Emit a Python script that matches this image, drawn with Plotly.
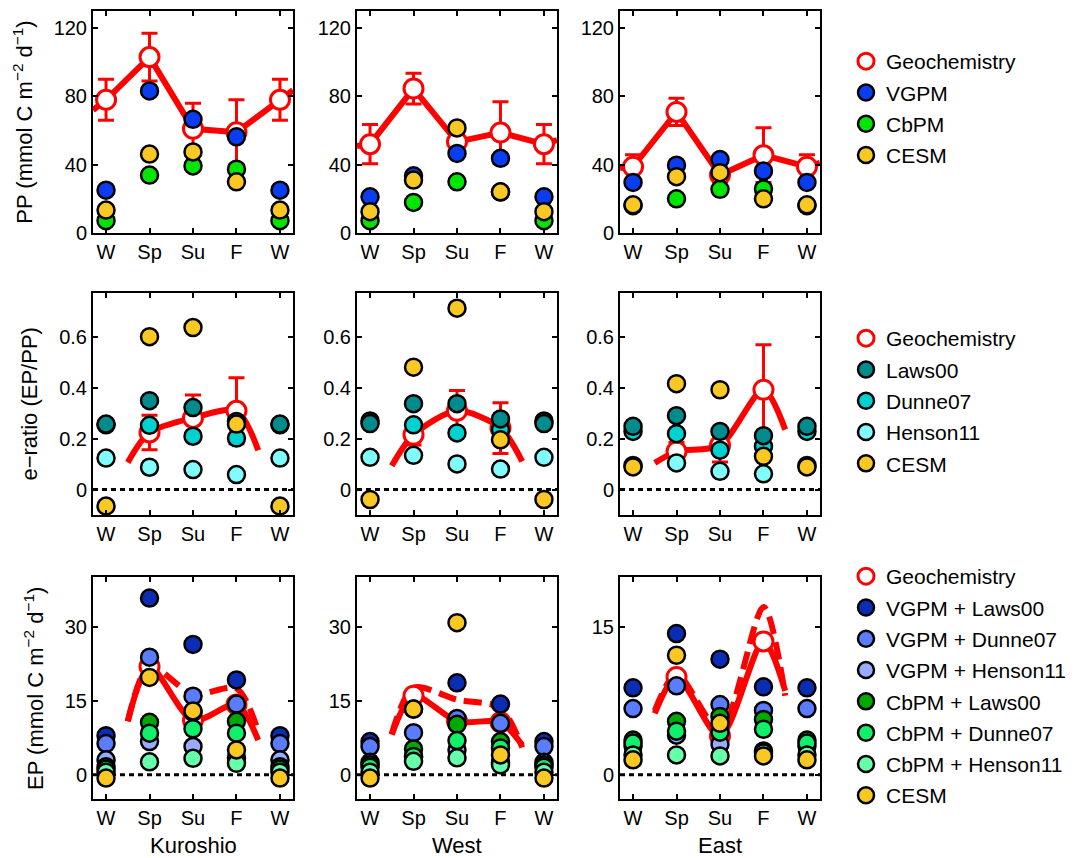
import plotly.graph_objects as go

# ---------------- data ----------------
season_x = [1, 2, 3, 4, 5]
season_labels = ["W", "Sp", "Su", "F", "W"]
regions = ["Kuroshio", "West", "East"]

# Row 1: PP (mmol C m-2 d-1)
pp_geo_kur = [78, 103, 61, 59, 78]
pp_geo_wes = [52, 84.6, 53.4, 58.8, 52]
pp_geo_eas = [38.8, 70.9, 34, 45.6, 38.8]
pp_err_kur = [12, 14, 15, 19, 12]
pp_err_wes = [11.5, 9, 5, 18, 11.5]
pp_err_eas = [7, 8, 4, 16, 7]
pp_line_x = [0.7, 1, 2, 3, 4, 5, 5.3]
pp_line_kur = [72, 78, 103, 61, 59, 78, 83.6]
pp_line_wes = [51, 52, 84.6, 53.4, 58.8, 52, 54.4]
pp_line_eas = [38, 38.8, 70.9, 34, 45.6, 38.8, 41]
pp_vgpm_kur = [25.1, 83.2, 66.6, 56.3, 25.1]
pp_vgpm_wes = [21.2, 33.5, 46.6, 43.7, 21.2]
pp_vgpm_eas = [29.6, 39.7, 43, 36.3, 29.6]
pp_cbpm_kur = [7.2, 33.9, 39.3, 37.4, 7.2]
pp_cbpm_wes = [7.2, 17.9, 30, 24, 7.2]
pp_cbpm_eas = [16, 20, 25.6, 25.8, 16]
pp_cesm_kur = [13.4, 46.2, 47.5, 30, 13.4]
pp_cesm_wes = [12.5, 31, 61.5, 24.1, 12.5]
pp_cesm_eas = [16.5, 33, 35.3, 20, 16.5]

# Row 2: e-ratio
er_geo_x = [2, 3, 4]
er_geo_kur = [0.225, 0.282, 0.31]
er_geo_wes = [0.216, 0.31, 0.242]
er_geo_eas = [0.15, 0.174, 0.393]
er_err_kur = [0.068, 0.09, 0.13]
er_err_wes = [0.04, 0.08, 0.1]
er_err_eas = [0.035, 0.065, 0.177]
er_line_x = [1.5, 2, 3, 4, 4.5]
er_line_kur = [0.107, 0.225, 0.282, 0.31, 0.155]
er_line_wes = [0.094, 0.216, 0.31, 0.242, 0.111]
er_line_eas = [0.105, 0.15, 0.174, 0.393, 0.236]
er_laws_kur = [0.258, 0.35, 0.323, 0.268, 0.258]
er_laws_wes = [0.26, 0.338, 0.338, 0.278, 0.26]
er_laws_eas = [0.249, 0.291, 0.229, 0.212, 0.249]
er_dunne_kur = [0.255, 0.253, 0.21, 0.203, 0.255]
er_dunne_wes = [0.27, 0.255, 0.223, 0.236, 0.27]
er_dunne_eas = [0.229, 0.22, 0.155, 0.17, 0.229]
er_henson_kur = [0.124, 0.088, 0.079, 0.059, 0.124]
er_henson_wes = [0.127, 0.135, 0.101, 0.081, 0.127]
er_henson_eas = [0.095, 0.105, 0.072, 0.062, 0.095]
er_cesm_kur = [-0.065, 0.602, 0.638, 0.258, -0.065]
er_cesm_wes = [-0.039, 0.482, 0.714, 0.196, -0.039]
er_cesm_eas = [0.089, 0.417, 0.393, 0.131, 0.089]

# Row 3: EP (mmol C m-2 d-1)
ep_line_x = [1.5, 2, 3, 4, 4.5]
ep_solid_kur = [10.8, 21.9, 11.0, 14.2, 7.0]
ep_solid_wes = [8.1, 16.0, 10.8, 10.6, 6.0]
ep_solid_eas = [6.2, 9.9, 3.9, 13.5, 8.5]
ep_dash_kur = [10.8, 22.0, 16.3, 17.5, 8.8]
ep_dash_wes = [8.3, 17.6, 15.2, 13.5, 5.5]
ep_dash_eas = [6.5, 10.2, 4.5, 17.0, 8.0]
ep_geo_x = [2, 3, 4]
ep_geo_kur = [21.9, 11.0, 14.2]
ep_geo_wes = [16.0, 10.8, 10.6]
ep_geo_eas = [9.9, 3.9, 13.5]
ep_vl_kur = [7.9, 35.8, 26.4, 19.2, 7.9]
ep_vl_wes = [6.7, 13.3, 18.6, 14.3, 6.7]
ep_vl_eas = [8.8, 14.3, 11.7, 8.9, 8.8]
ep_vd_kur = [6.3, 23.8, 15.9, 14.3, 6.3]
ep_vd_wes = [5.7, 8.5, 11.4, 10.4, 5.7]
ep_vd_eas = [6.7, 9.0, 7.1, 6.5, 6.7]
ep_vh_kur = [3.0, 6.7, 5.7, 3.4, 3.0]
ep_vh_wes = [2.5, 3.5, 5.0, 2.5, 2.5]
ep_vh_eas = [2.9, 4.0, 3.1, 2.4, 2.9]
ep_cl_kur = [1.6, 10.6, 12.6, 10.8, 1.6]
ep_cl_wes = [2.0, 5.2, 10.2, 6.7, 2.0]
ep_cl_eas = [3.5, 5.4, 5.9, 5.6, 3.5]
ep_cd_kur = [1.1, 8.4, 9.3, 8.4, 1.1]
ep_cd_wes = [1.5, 3.7, 6.9, 5.4, 1.5]
ep_cd_eas = [3.2, 4.4, 4.3, 4.6, 3.2]
ep_ch_kur = [0.5, 2.6, 3.3, 2.3, 0.5]
ep_ch_wes = [0.5, 2.7, 3.4, 2.0, 0.5]
ep_ch_eas = [2.0, 2.0, 1.9, 2.2, 2.0]
ep_cesm_kur = [-0.7, 19.7, 12.9, 5.0, -0.7]
ep_cesm_wes = [-0.7, 13.3, 30.8, 4.0, -0.7]
ep_cesm_eas = [1.5, 12.1, 5.2, 1.9, 1.5]

# ---------------- style ----------------
FONT = "Liberation Sans, Arial, Helvetica, sans-serif"
RED = "#ff0000"
C_VGPM, C_CBPM, C_CESM = "#0a3cf0", "#00e600", "#fac823"
C_LAWS, C_DUNNE, C_HENSON = "#008c8c", "#00d2d2", "#80fcfc"
C_VL, C_VD, C_VH = "#0a2db4", "#5a7cff", "#9aabff"
C_CL, C_CD, C_CH = "#00a800", "#11f06a", "#66ffaa"

fig = go.Figure()

col_px = [(93, 293), (357, 557), (620, 820)]
row_px = [(11, 233), (292.7, 515), (577.3, 799.3)]
W, H = 1081, 858


def ax_names(i):
    s = "" if i == 0 else str(i + 1)
    return "x" + s, "y" + s


def dots(xa, ya, y, color, name, legend, show, rank):
    fig.add_trace(go.Scatter(
        x=season_x, y=y, mode="markers", name=name, xaxis=xa, yaxis=ya,
        marker=dict(size=17, color=color, line=dict(color="black", width=2.5)),
        legend=legend, showlegend=show, legendrank=rank, legendgroup=legend + name,
        cliponaxis=False, hoverinfo="skip"))


def geo(xa, ya, x, y, err, legend, show):
    fig.add_trace(go.Scatter(
        x=x, y=y, mode="markers", name="Geochemistry", xaxis=xa, yaxis=ya,
        marker=dict(size=19, color="white", line=dict(color=RED, width=3)),
        error_y=(dict(type="data", array=err, color=RED, thickness=3, width=8)
                 if err is not None else None),
        legend=legend, showlegend=show, legendrank=1, legendgroup=legend + "geo",
        cliponaxis=False, hoverinfo="skip"))


def line(xa, ya, x, y, shape, dash="solid"):
    fig.add_trace(go.Scatter(
        x=x, y=y, mode="lines", xaxis=xa, yaxis=ya, showlegend=False,
        line=dict(color=RED, width=6, shape=shape, dash=dash, smoothing=0.8),
        hoverinfo="skip"))


# Row 1
pp_sets = [
    (pp_line_kur, pp_geo_kur, pp_err_kur, pp_vgpm_kur, pp_cbpm_kur, pp_cesm_kur),
    (pp_line_wes, pp_geo_wes, pp_err_wes, pp_vgpm_wes, pp_cbpm_wes, pp_cesm_wes),
    (pp_line_eas, pp_geo_eas, pp_err_eas, pp_vgpm_eas, pp_cbpm_eas, pp_cesm_eas),
]
for c, (ln, g, e, v, cb, ce) in enumerate(pp_sets):
    xa, ya = ax_names(c)
    show = c == 0
    line(xa, ya, pp_line_x, ln, "linear")
    geo(xa, ya, season_x, g, e, "legend", show)
    dots(xa, ya, v, C_VGPM, "VGPM", "legend", show, 2)
    dots(xa, ya, cb, C_CBPM, "CbPM", "legend", show, 3)
    dots(xa, ya, ce, C_CESM, "CESM", "legend", show, 4)

# Row 2
er_sets = [
    (er_line_kur, er_geo_kur, er_err_kur, er_laws_kur, er_dunne_kur, er_henson_kur, er_cesm_kur),
    (er_line_wes, er_geo_wes, er_err_wes, er_laws_wes, er_dunne_wes, er_henson_wes, er_cesm_wes),
    (er_line_eas, er_geo_eas, er_err_eas, er_laws_eas, er_dunne_eas, er_henson_eas, er_cesm_eas),
]
for c, (ln, g, e, la, du, he, ce) in enumerate(er_sets):
    xa, ya = ax_names(3 + c)
    show = c == 0
    line(xa, ya, er_line_x, ln, "spline")
    geo(xa, ya, er_geo_x, g, e, "legend2", show)
    dots(xa, ya, du, C_DUNNE, "Dunne07", "legend2", show, 3)
    dots(xa, ya, la, C_LAWS, "Laws00", "legend2", show, 2)
    dots(xa, ya, he, C_HENSON, "Henson11", "legend2", show, 4)
    dots(xa, ya, ce, C_CESM, "CESM", "legend2", show, 5)

# Row 3
ep_sets = [
    (ep_solid_kur, ep_dash_kur, ep_geo_kur, ep_vl_kur, ep_vd_kur, ep_vh_kur, ep_cl_kur, ep_cd_kur, ep_ch_kur, ep_cesm_kur),
    (ep_solid_wes, ep_dash_wes, ep_geo_wes, ep_vl_wes, ep_vd_wes, ep_vh_wes, ep_cl_wes, ep_cd_wes, ep_ch_wes, ep_cesm_wes),
    (ep_solid_eas, ep_dash_eas, ep_geo_eas, ep_vl_eas, ep_vd_eas, ep_vh_eas, ep_cl_eas, ep_cd_eas, ep_ch_eas, ep_cesm_eas),
]
for c, (so, da, g, vl, vd, vh, cl, cd, ch, ce) in enumerate(ep_sets):
    xa, ya = ax_names(6 + c)
    show = c == 0
    line(xa, ya, ep_line_x, da, "spline", dash="18px,8px")
    line(xa, ya, ep_line_x, so, "spline")
    geo(xa, ya, ep_geo_x, g, None, "legend3", show)
    dots(xa, ya, vl, C_VL, "VGPM + Laws00", "legend3", show, 2)
    dots(xa, ya, vd, C_VD, "VGPM + Dunne07", "legend3", show, 3)
    dots(xa, ya, vh, C_VH, "VGPM + Henson11", "legend3", show, 4)
    dots(xa, ya, cl, C_CL, "CbPM + Laws00", "legend3", show, 5)
    dots(xa, ya, cd, C_CD, "CbPM + Dunne07", "legend3", show, 6)
    dots(xa, ya, ch, C_CH, "CbPM + Henson11", "legend3", show, 7)
    dots(xa, ya, ce, C_CESM, "CESM", "legend3", show, 8)

# ---------------- axes ----------------
y_ranges = [[0, 130]] * 3 + [[-0.1, 0.775]] * 3 + [[-5, 40], [-5, 40], [-2.5, 20]]
y_ticks = [[0, 40, 80, 120]] * 3 + [[0, 0.2, 0.4, 0.6]] * 3 + [[0, 15, 30], [0, 15, 30], [0, 15]]
y_titles = {0: "PP (mmol C m<sup>−2</sup> d<sup>−1</sup>)",
            3: "e−ratio (EP/PP)",
            6: "EP (mmol C m<sup>−2</sup> d<sup>−1</sup>)"}

common = dict(showline=True, linecolor="black", linewidth=2, mirror="ticks",
              ticks="inside", ticklen=5, tickwidth=1.5, tickcolor="black",
              showgrid=False, zeroline=False, automargin=False,
              tickfont=dict(size=20, family=FONT, color="black"))

layout_axes = {}
annotations = []
for i in range(9):
    r, c = divmod(i, 3)
    x0, x1 = col_px[c]
    t, b = row_px[r]
    s = "" if i == 0 else str(i + 1)
    xa, ya = ax_names(i)
    xd = dict(common, domain=[x0 / W, x1 / W], anchor=ya, range=[0.7, 5.3],
              tickmode="array", tickvals=season_x, ticktext=season_labels)
    if r == 2:
        annotations.append(dict(text=regions[c], xref="paper", yref="paper",
                                x=(x0 + x1) / 2 / W, y=1 - 845 / H, xanchor="center",
                                yanchor="middle", showarrow=False,
                                font=dict(size=22, family=FONT, color="black")))
    yd = dict(common, domain=[1 - b / H, 1 - t / H], anchor=xa, range=y_ranges[i],
              tickmode="array", tickvals=y_ticks[i])
    if i in y_titles:
        yd["title"] = dict(text=y_titles[i], font=dict(size=22, family=FONT, color="black"))
    layout_axes["xaxis" + s] = xd
    layout_axes["yaxis" + s] = yd

shapes = []
for i in range(3, 9):
    xa, ya = ax_names(i)
    shapes.append(dict(type="line", xref=xa + " domain", yref=ya, x0=0, x1=1, y0=0, y1=0,
                       line=dict(color="black", width=3, dash="5px,4px"), layer="below"))

leg = dict(font=dict(size=21, family=FONT, color="black"), bgcolor="rgba(0,0,0,0)",
           xanchor="left", yanchor="top", itemclick=False, itemdoubleclick=False,
           traceorder="grouped", tracegroupgap=1)

fig.update_layout(
    width=W, height=H, margin=dict(l=0, r=0, t=0, b=0),
    paper_bgcolor="white", plot_bgcolor="white",
    font=dict(family=FONT, color="black"),
    shapes=shapes, annotations=annotations,
    legend=dict(leg, x=846 / W, y=1 - 41 / H),
    legend2=dict(leg, x=846 / W, y=1 - 318 / H),
    legend3=dict(leg, x=846 / W, y=1 - 556 / H),
    **layout_axes,
)

fig.write_html("out.html")
